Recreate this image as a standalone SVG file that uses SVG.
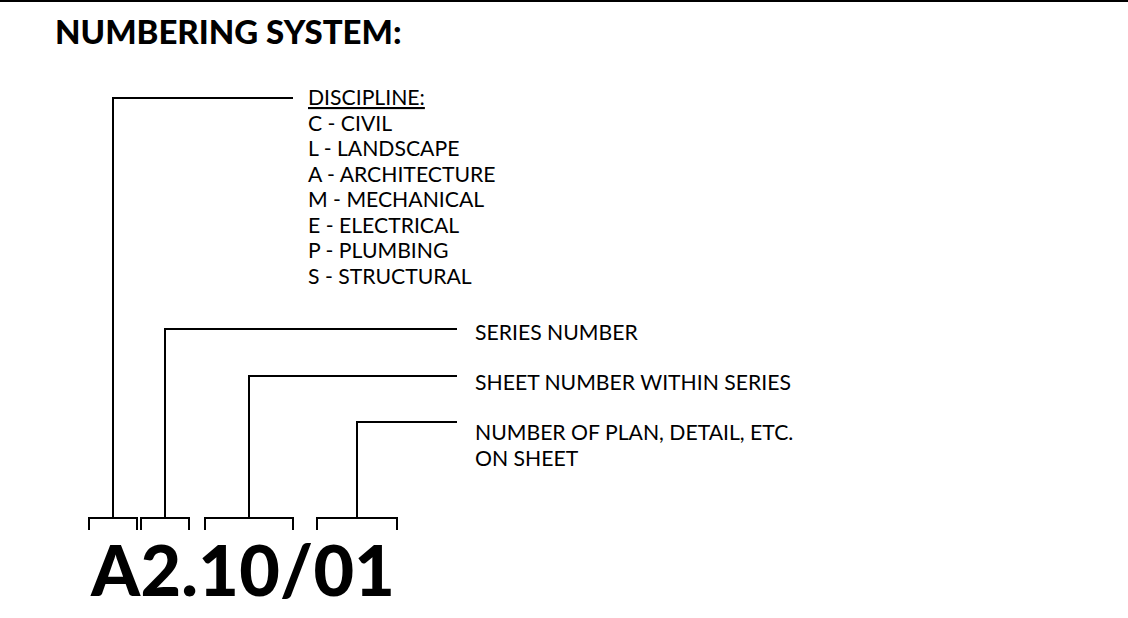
<svg xmlns="http://www.w3.org/2000/svg" width="1128" height="618" viewBox="0 0 1128 618">
<style>
.t{font-family:Lato,"Noto Sans","Liberation Sans",sans-serif;font-size:21.2px;fill:#000}
.ln{fill:none;stroke:#000;stroke-width:2}
</style>
<rect width="1128" height="618" fill="#fff"/>
<rect x="0" y="0" width="1128" height="2" fill="#000"/>
<text x="55" y="44" style="font-family:Lato,'Liberation Sans',sans-serif;font-size:33px;font-weight:900">NUMBERING SYSTEM:</text>
<g id="code">
<text x="91" y="596" style="font-family:Lato,'Liberation Sans',sans-serif;font-size:70px;font-weight:900;letter-spacing:0.3px">A2.10/01</text>
</g>
<g id="discipline">
<text class="t" x="308" y="105" text-decoration="underline">DISCIPLINE:</text>
<text class="t" x="308" y="130.5">C - CIVIL</text>
<text class="t" x="308" y="156">L - LANDSCAPE</text>
<text class="t" x="308" y="181.5">A - ARCHITECTURE</text>
<text class="t" x="308" y="207">M - MECHANICAL</text>
<text class="t" x="308" y="232.5">E - ELECTRICAL</text>
<text class="t" x="308" y="258">P - PLUMBING</text>
<text class="t" x="308" y="283.5">S - STRUCTURAL</text>
</g>
<g id="series"><text class="t" x="475" y="340">SERIES NUMBER</text></g>
<g id="sheet"><text class="t" x="475" y="390">SHEET NUMBER WITHIN SERIES</text></g>
<g id="plan"><text class="t" x="475" y="440">NUMBER OF PLAN, DETAIL, ETC.</text><text class="t" x="475" y="465.5">ON SHEET</text></g>
<g id="connectors" class="ln">
<polyline points="293,98 113,98 113,518"/>
<polyline points="457,329 165,329 165,518"/>
<polyline points="457,376 249,376 249,518"/>
<polyline points="457,422 357,422 357,518"/>
<polyline points="89,530 89,518 137,518 137,530"/>
<polyline points="141,530 141,518 189,518 189,530"/>
<polyline points="205,530 205,518 293,518 293,530"/>
<polyline points="317,530 317,518 397,518 397,530"/>
</g>
</svg>
